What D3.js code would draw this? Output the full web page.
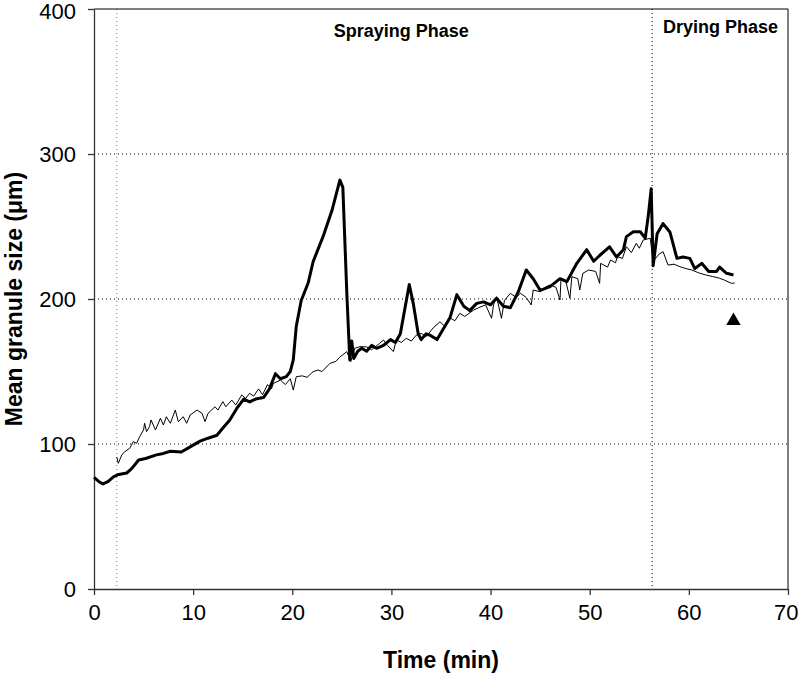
<!DOCTYPE html>
<html>
<head>
<meta charset="utf-8">
<script src="https://cdn.jsdelivr.net/npm/d3@7"></script>
<style>
  html, body { margin: 0; padding: 0; background: #fff; }
  svg { display: block; font-family: "Liberation Sans", Arial, sans-serif; }
</style>
</head>
<body>
<svg id="chart" width="799" height="674"></svg>
<script>
// ---- data ----
const xTicks = [0, 10, 20, 30, 40, 50, 60, 70];
const yTicks = [0, 100, 200, 300, 400];
const gridValues = [100, 200, 300];
const phaseLines = [2.3, 56.3];
const phaseLabels = ["Spraying Phase", "Drying Phase"];
const phaseLabelX = [31, 63.2];
const xTitle = "Time (min)";
const yTitle = "Mean granule size (μm)";

// thick series: time (min), size (µm)
const thickTime = [0, 0.5, 0.9, 1.4, 2.0, 2.5, 3.3, 3.8, 4.5, 5.2, 6.3, 7.0, 7.7, 8.8, 9.7, 10.7, 11.5, 12.4, 13.0, 13.7,
  14.4, 15.1, 15.7, 16.3, 17.1, 17.7, 18.3, 18.8, 19.4, 19.8, 20.1, 20.4, 20.9, 21.6, 22.1, 23.1, 24.0, 24.8, 25.1, 25.5,
  25.8, 26.0, 26.2, 26.6, 27.0, 27.5, 28.0, 28.5, 29.2, 29.9, 30.4, 30.9, 31.4, 31.8, 32.2, 32.7, 33.0, 33.5, 33.9, 34.6,
  35.2, 35.9, 36.6, 37.3, 37.9, 38.6, 39.3, 40.0, 40.6, 41.3, 42.0, 42.8, 43.6, 44.3, 45.0, 46.0, 47.0, 47.7, 48.7, 49.7,
  50.4, 51.0, 52.0, 52.7, 53.4, 53.7, 54.4, 55.1, 55.6, 55.9, 56.2, 56.4, 56.8, 57.4, 58.1, 58.8, 59.4, 60.1, 60.6, 61.3,
  62.0, 62.8, 63.1, 63.8, 64.5];
const thickSize = [77, 74, 72.5, 74, 77.5, 79, 80, 83, 89, 90, 92.5, 93.5, 95, 94.5, 98, 102, 104, 106, 111, 116.5,
  124.5, 131, 129, 131, 132, 138, 148.5, 145, 146.5, 150, 158, 181, 199, 211, 225.7, 243, 261, 282, 277, 204,
  158, 171, 159, 164, 166, 164, 168, 166, 168, 172, 170, 176, 195, 210, 197, 176, 172, 176, 175, 172,
  179, 187, 203, 195, 192, 197, 198, 196, 200.5, 195, 194, 205, 220, 214, 206, 208.5, 214, 212, 224.6, 234,
  226, 230, 236, 229, 234, 243, 246.4, 246.4, 242, 257, 276, 223, 245, 252, 246, 228, 229, 228, 221, 224.6,
  219, 219, 222, 217.7, 216.6];

// thin series: time (min), size (µm)
const thinTime = [2.3, 2.45, 2.8, 3.1, 3.6, 3.96, 4.3, 4.6, 5.0, 5.1, 5.3, 5.6, 5.75, 6.2, 6.7, 7.0, 7.3, 7.7, 8.2, 8.5,
  9.0, 9.35, 9.7, 10.4, 10.9, 11.2, 11.5, 12.2, 12.5, 13.0, 13.3, 13.9, 14.3, 14.9, 15.3, 15.7, 16.1, 16.6, 17.0, 17.5,
  17.9, 18.1, 18.8, 19.3, 19.8, 20.1, 20.4, 21.0, 21.5, 22.1, 22.6, 23.0, 23.8, 24.4, 24.8, 25.5, 25.9, 26.3, 26.8, 27.5,
  28.0, 28.8, 29.2, 29.6, 30.2, 30.5, 31.0, 31.5, 32.0, 32.5, 33.0, 33.5, 34.2, 34.9, 35.4, 35.9, 36.4, 36.9, 37.4, 38.3,
  38.8, 39.5, 40.1, 40.3, 40.6, 41.1, 41.4, 42.0, 42.6, 43.0, 43.6, 44.1, 44.3, 45.0, 45.6, 46.0, 46.6, 47.0, 47.1, 47.6,
  48.0, 48.2, 48.8, 49.0, 49.3, 49.9, 50.6, 51.0, 51.1, 51.8, 52.1, 52.6, 52.8, 53.3, 53.7, 54.2, 54.7, 55.0, 55.4, 56.1,
  56.4, 57.0, 57.4, 57.9, 58.5, 59.1, 59.7, 60.3, 61.0, 61.7, 62.4, 63.1, 63.6, 64.3, 64.6];
const thinSize = [91, 86.7, 92.4, 94.7, 97, 101.6, 100.5, 105, 109.7, 114.3, 108.5, 112, 116.6, 109.7, 117.7, 113.1, 118.8, 114.3, 123.4, 115.4,
  118.8, 114.3, 120, 123.4, 121.1, 115.4, 121.1, 125.7, 123.4, 129.2, 125.7, 130.3, 126.9, 133.8, 131.5, 135, 133, 138, 134, 141,
  138, 141.8, 144.1, 141, 145, 137.2, 146.4, 147, 146, 149.9, 151, 150, 155.6, 157, 160, 163.7, 156.8, 166, 167.1, 167,
  165, 169.4, 171.7, 168, 163.7, 172, 170, 172.9, 171, 175, 176.3, 174, 180, 184.3, 181, 187, 185, 190.1, 188, 192.4,
  194, 196, 186.7, 196, 201.6, 186.7, 199, 203.9, 201, 204, 201, 195.9, 206.2, 205, 208.5, 209.7, 208, 199.3, 213.1, 212,
  200.5, 215.4, 214, 206.2, 217.7, 220, 219, 210.8, 224.6, 222, 226.9, 225, 229.2, 228, 236.1, 232, 238.4, 235, 240.7, 241.9,
  226, 231, 232.6, 223.4, 224, 222.3, 221, 220, 218, 216.6, 215.5, 214.3, 213, 210.8, 211];

// single reference marker (triangle)
const markerTime = [64.5];
const markerSize = [185];

// ---- drawing ----
const svg = d3.select("#chart");
const L = 94, R = 788, T = 9, B = 589;
const x = d3.scaleLinear().domain([0, 70]).range([L, R]);
const y = d3.scaleLinear().domain([0, 400]).range([B, T]);

// grid lines
svg.append("g").selectAll("line").data(gridValues).join("line")
  .attr("x1", L).attr("x2", R)
  .attr("y1", d => y(d)).attr("y2", d => y(d))
  .attr("stroke", "#000").attr("stroke-width", 1)
  .attr("stroke-dasharray", "1,3");

// phase separator lines
svg.append("g").selectAll("line").data(phaseLines).join("line")
  .attr("x1", d => x(d)).attr("x2", d => x(d))
  .attr("y1", T).attr("y2", B)
  .attr("stroke", (d, i) => i === 0 ? "#777" : "#000").attr("stroke-width", 1)
  .attr("stroke-dasharray", "1,3");

// frame (top & right)
svg.append("path")
  .attr("d", `M${L},${T}H${R}V${B}`)
  .attr("fill", "none").attr("stroke", "#000").attr("stroke-width", 1);

// axes
const yAxis = d3.axisLeft(y).tickValues(yTicks).tickSize(6).tickSizeOuter(0).tickPadding(12);
const gy = svg.append("g").attr("transform", `translate(${L},0)`).call(yAxis);
const xAxis = d3.axisBottom(x).tickValues(xTicks).tickSize(6).tickSizeOuter(0).tickPadding(9);
const gx = svg.append("g").attr("transform", `translate(0,${B})`).call(xAxis);
[gx, gy].forEach(g => {
  g.selectAll("path").attr("stroke", "#333").attr("stroke-width", 1.3);
  g.selectAll("line").attr("stroke", "#333").attr("stroke-width", 1.3);
  g.selectAll("text").attr("font-size", 22).attr("fill", "#000")
    .attr("font-family", "'Liberation Sans', Arial, sans-serif");
});
gy.selectAll(".tick text").attr("dy", d => d === 400 ? "0.42em" : "0.34em");
// keep the last x label inside the page edge
gx.selectAll(".tick text").attr("dx", d => d === 70 ? "-0.1em" : 0);

// series lines
const lineGen = d3.line().x(d => x(d[0])).y(d => y(d[1]));
const thinData = d3.zip(thinTime, thinSize);
const thickData = d3.zip(thickTime, thickSize);
svg.append("path").datum(thinData)
  .attr("d", lineGen).attr("fill", "none")
  .attr("stroke", "#000").attr("stroke-width", 1).attr("stroke-linejoin", "round");
svg.append("path").datum(thickData)
  .attr("d", lineGen).attr("fill", "none")
  .attr("stroke", "#000").attr("stroke-width", 3).attr("stroke-linejoin", "round");

// triangle marker
svg.append("g").selectAll("path").data(d3.zip(markerTime, markerSize)).join("path")
  .attr("transform", d => `translate(${x(d[0])},${y(d[1])})`)
  .attr("d", d3.symbol().type(d3.symbolTriangle).size(90))
  .attr("fill", "#000");

// phase labels
svg.append("g").selectAll("text").data(phaseLabels).join("text")
  .attr("x", (d, i) => x(phaseLabelX[i]))
  .attr("y", (d, i) => i === 0 ? 37 : 33)
  .attr("text-anchor", "middle")
  .attr("font-size", 18).attr("font-weight", "bold")
  .text(d => d);

// axis titles
svg.append("text")
  .attr("x", 441).attr("y", 668)
  .attr("text-anchor", "middle")
  .attr("font-size", 23).attr("font-weight", "bold")
  .text(xTitle);
svg.append("text")
  .attr("transform", `translate(22,${(T + B) / 2}) rotate(-90)`)
  .attr("text-anchor", "middle")
  .attr("font-size", 23).attr("font-weight", "bold")
  .text(yTitle);
</script>
</body>
</html>
